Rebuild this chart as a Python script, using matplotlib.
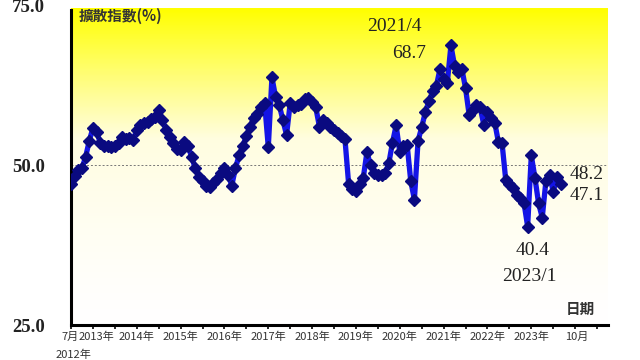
import numpy as np
import matplotlib
matplotlib.use("Agg")
import matplotlib.pyplot as plt
from matplotlib.colors import LinearSegmentedColormap

plt.rcParams['font.family'] = ['Noto Sans CJK TC', 'DejaVu Sans']

# monthly diffusion index, 2012/7 .. 2023/10
values = [
    47.0, 48.3, 49.2, 49.5, 51.3, 53.8, 55.8, 55.2, 53.5, 53.0,
    53.0, 52.8, 53.0, 53.5, 54.4, 54.0, 54.2, 53.9, 55.5, 56.3,
    56.5, 56.8, 57.2, 57.5, 58.6, 57.0, 55.5, 54.4, 53.4, 52.5,
    52.3, 53.6, 53.0, 51.3, 49.5, 48.1, 47.5, 46.8, 46.6, 47.2,
    47.8, 48.7, 49.5, 48.5, 46.8, 49.5, 51.5, 53.0, 54.5, 56.0,
    57.3, 58.0, 59.1, 59.7, 52.8, 63.7, 60.6, 59.4, 57.0, 54.7,
    59.7, 59.0, 59.4, 59.5, 60.3, 60.5, 59.8, 59.0, 56.0, 57.0,
    56.5, 56.0, 55.5, 55.0, 54.6, 54.0, 47.0, 46.3, 46.0, 47.0,
    48.0, 52.0, 50.0, 48.8, 48.4, 48.4, 48.7, 50.3, 53.5, 56.2,
    52.0, 53.0, 53.2, 47.5, 44.6, 53.8, 55.9, 58.3, 60.0, 61.5,
    62.3, 65.0, 63.5, 62.8, 68.7, 65.5, 64.5, 65.0, 62.0, 57.8,
    58.6, 59.4, 59.0, 56.3, 58.3, 57.3, 56.6, 53.6, 53.4, 47.7,
    47.0, 46.4, 45.3, 44.8, 44.1, 40.4, 51.5, 48.0, 44.0, 41.8,
    47.5, 48.5, 45.8, 48.2, 47.1,
]
months = np.arange(len(values))  # months since 2012/7

year_ticks = [6, 18, 30, 42, 54, 66, 78, 90, 102, 114, 126]
year_labels = ["2013年", "2014年", "2015年", "2016年", "2017年", "2018年",
               "2019年", "2020年", "2021年", "2022年", "2023年"]
y_ticks = [25, 50, 75]

fig = plt.figure(figsize=(6.4, 3.6), dpi=100)
ax = fig.add_axes([0.111, 0.097, 0.839, 0.889])
ax.set_xlim(0, 147)
ax.set_ylim(25, 75)

# yellow to white background
cmap = LinearSegmentedColormap.from_list("yw", ["#ffffff", "#fffde0", "#ffff00"])
grad = np.linspace(0, 1, 256).reshape(-1, 1) ** 1.3
ax.imshow(grad, aspect="auto", cmap=cmap, origin="lower",
          extent=[0, 147, 25, 74.5], zorder=0)

ax.axhline(50, color="#777777", lw=0.7, ls=(0, (2, 2)), zorder=1)
ax.plot(months, values, color="#1414e6", lw=3.8, marker="D", ms=6.5,
        mfc="#0a0a80", mec="#0a0a80", zorder=3)

for s in ["top", "right"]:
    ax.spines[s].set_visible(False)
ax.spines["left"].set_linewidth(2.2)
ax.spines["bottom"].set_linewidth(2.2)
ax.spines["left"].set_bounds(25, 74.2)

ax.set_yticks(y_ticks)
ax.set_yticklabels([f"{v:.1f}" for v in y_ticks], family="Liberation Serif",
                   fontweight="bold", fontsize=13.5, color="#222222")
ax.tick_params(axis="y", length=0, pad=19)
ax.get_yticklabels()[2].set_y(74.4)

# half-year tick marks, labels drawn as text
ax.set_xticks(np.arange(0, 145, 6))
ax.set_xticklabels([])
ax.tick_params(axis="x", length=3, width=1.2, direction="out")

lab = dict(fontsize=8, color="#333333", ha="center", va="top", clip_on=False)
for i, (t, name) in enumerate(zip(year_ticks, year_labels)):
    ax.text(t + (1.0 if i == 0 else 0), 23.9, name, **lab)
ax.text(-0.3, 23.9, "7月", **lab)
ax.text(0.6, 21.2, "2012年", **lab)
ax.text(138.5, 23.9, "10月", **lab)

ax.text(2.2, 73.3, "擴散指數(%)", fontsize=10.5, fontweight="bold",
        color="#333333", va="center")
ax.text(139.5, 27.5, "日期", fontsize=10.5, fontweight="bold", color="#333333",
        va="center", ha="center")

serif = dict(family="Liberation Serif", fontsize=14, color="#222222")
ax.text(88.5, 71.6, "2021/4", ha="center", va="center", **serif)
ax.text(92.5, 67.4, "68.7", ha="center", va="center", **serif)
ax.text(126.5, 36.7, "40.4", ha="center", va="center", **serif)
ax.text(125.5, 32.6, "2023/1", ha="center", va="center", **serif)
ax.text(136.5, 48.6, "48.2", ha="left", va="center", **serif)
ax.text(136.5, 45.2, "47.1", ha="left", va="center", **serif)

fig.savefig("out.png", dpi=100)
